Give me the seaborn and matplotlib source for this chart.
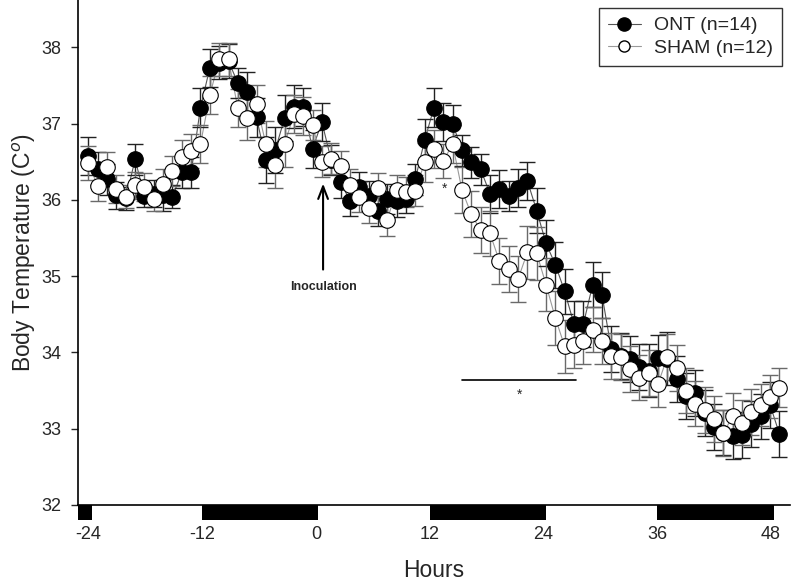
import numpy as np
import pandas as pd
import matplotlib
matplotlib.use("Agg")
import matplotlib.pyplot as plt
from matplotlib.lines import Line2D
from matplotlib.patches import Rectangle
import seaborn as sns

# ---------------- data ----------------
n_points = 75
hour_start = -24.0
hour_step = 0.985
hours = hour_start + hour_step * np.arange(n_points)

ont = [36.57, 36.41, 36.27, 36.06, 36.02, 36.53, 36.05, 36.08, 36.06, 36.04,
       36.36, 36.36, 37.21, 37.73, 37.80, 37.82, 37.53, 37.42, 37.08, 36.52,
       36.65, 37.07, 37.22, 37.22, 36.67, 37.02, 36.52, 36.23, 35.99, 36.17,
       36.05, 35.86, 36.01, 35.98, 36.01, 36.27, 36.78, 37.21, 37.02, 37.00,
       36.65, 36.49, 36.40, 36.08, 36.14, 36.05, 36.16, 36.25, 35.86, 35.43,
       35.15, 34.80, 34.37, 34.37, 34.89, 34.75, 34.04, 33.95, 33.91, 33.81,
       33.76, 33.93, 33.92, 33.65, 33.43, 33.47, 33.21, 33.02, 32.95, 32.90,
       32.92, 33.06, 33.16, 33.31, 32.93]
ont_err = [0.25, 0.22, 0.20, 0.18, 0.15, 0.20, 0.15, 0.18, 0.20, 0.15,
           0.20, 0.20, 0.25, 0.25, 0.22, 0.22, 0.20, 0.25, 0.25, 0.30,
           0.30, 0.30, 0.28, 0.25, 0.25, 0.25, 0.20, 0.20, 0.20, 0.20,
           0.20, 0.20, 0.20, 0.20, 0.18, 0.20, 0.28, 0.25, 0.25, 0.25,
           0.20, 0.20, 0.20, 0.25, 0.25, 0.20, 0.25, 0.25, 0.30, 0.30,
           0.30, 0.30, 0.30, 0.30, 0.30, 0.30, 0.30, 0.30, 0.30, 0.30,
           0.35, 0.30, 0.35, 0.30, 0.30, 0.30, 0.30, 0.30, 0.30, 0.30,
           0.30, 0.30, 0.30, 0.30, 0.30]

sham = [36.48, 36.18, 36.43, 36.14, 36.04, 36.19, 36.17, 36.01, 36.21, 36.38,
        36.56, 36.64, 36.73, 37.37, 37.84, 37.84, 37.20, 37.07, 37.26, 36.73,
        36.46, 36.73, 37.12, 37.10, 36.98, 36.50, 36.54, 36.44, 36.20, 36.04,
        35.89, 36.15, 35.74, 36.13, 36.10, 36.12, 36.49, 36.67, 36.51, 36.73,
        36.13, 35.81, 35.60, 35.56, 35.20, 35.09, 34.96, 35.31, 35.30, 34.89,
        34.45, 34.08, 34.10, 34.15, 34.30, 34.15, 33.95, 33.94, 33.78, 33.67,
        33.73, 33.59, 33.94, 33.80, 33.50, 33.33, 33.25, 33.13, 32.94, 33.17,
        33.08, 33.22, 33.31, 33.42, 33.54]
sham_err = [0.22, 0.20, 0.20, 0.18, 0.15, 0.18, 0.18, 0.15, 0.20, 0.20,
            0.22, 0.22, 0.25, 0.25, 0.22, 0.22, 0.25, 0.28, 0.25, 0.30,
            0.30, 0.30, 0.25, 0.25, 0.20, 0.20, 0.20, 0.20, 0.20, 0.20,
            0.20, 0.20, 0.22, 0.20, 0.20, 0.20, 0.25, 0.25, 0.22, 0.25,
            0.30, 0.30, 0.30, 0.30, 0.30, 0.30, 0.30, 0.35, 0.35, 0.35,
            0.35, 0.35, 0.30, 0.30, 0.30, 0.30, 0.30, 0.30, 0.30, 0.30,
            0.30, 0.30, 0.30, 0.30, 0.30, 0.30, 0.30, 0.30, 0.30, 0.30,
            0.30, 0.30, 0.28, 0.28, 0.26]

groups = ["ONT (n=14)", "SHAM (n=12)"]
x_ticks = [-24, -12, 0, 12, 24, 36, 48]
y_ticks = [32, 33, 34, 35, 36, 37, 38]
dark_periods = [(-25.1, -23.6), (-12, 0.2), (12, 24.3), (36, 48.3)]

df = pd.DataFrame({
    "hour": np.concatenate([hours, hours]),
    "temp": np.concatenate([ont, sham]),
    "err": np.concatenate([ont_err, sham_err]),
    "group": [groups[0]] * n_points + [groups[1]] * n_points,
})

# ---------------- figure ----------------
sns.set_style("ticks")
plt.rcParams["font.family"] = ["Liberation Sans", "DejaVu Sans"]

fig = plt.figure(figsize=(8, 5.85), dpi=100)
ax = fig.add_axes([0.0975, 0.1368, 0.89, 0.8632])

line_colors = {groups[0]: "#555555", groups[1]: "#9a9a9a"}
bar_colors = {groups[0]: "#222222", groups[1]: "#6a6a6a"}
face_colors = {groups[0]: "black", groups[1]: "white"}

sns.lineplot(data=df, x="hour", y="temp", hue="group", palette=line_colors,
             estimator=None, lw=0.8, legend=False, ax=ax, zorder=2)

for g in groups:
    sub = df[df["group"] == g]
    ax.errorbar(sub["hour"], sub["temp"], yerr=sub["err"], fmt="none",
                ecolor=bar_colors[g], elinewidth=1.0, capsize=5.5,
                capthick=1.0, zorder=3)
    sns.scatterplot(data=sub, x="hour", y="temp", color=face_colors[g],
                    edgecolor="black", linewidth=0.8, s=125, ax=ax,
                    legend=False, zorder=4)

ax.set_xlim(-25.1, 50.0)
ax.set_ylim(32, 38.62)
ax.set_xticks(x_ticks)
ax.set_xticklabels([str(t) for t in x_ticks])
ax.set_yticks(y_ticks)
ax.tick_params(axis="x", length=0, pad=15, labelsize=13)
ax.tick_params(axis="y", length=5, width=1, pad=7, labelsize=13)
for s in ["top", "right"]:
    ax.spines[s].set_visible(False)
for s in ["left", "bottom"]:
    ax.spines[s].set_linewidth(1.2)
    ax.spines[s].set_color("black")

ax.set_xlabel("Hours", fontsize=16.5, labelpad=12)
ax.set_ylabel("Body Temperature (C$^{o}$)", fontsize=16.5, labelpad=2)

# dark-period bars under the axis
for (a, b) in dark_periods:
    ax.add_patch(Rectangle((a, 32), b - a, -0.2, facecolor="black",
                           edgecolor="none", clip_on=False, zorder=5))

# annotations
ax.annotate("", xy=(0.75, 36.25), xytext=(0.75, 35.05),
            arrowprops=dict(arrowstyle="->,head_width=0.35,head_length=0.9",
                            lw=1.5, color="black"))
ax.text(0.75, 34.86, "Inoculation", ha="center", va="center",
        fontsize=9, fontweight="bold")
ax.text(13.6, 36.15, "*", ha="center", va="center", fontsize=10)
ax.plot([15.4, 27.4], [33.64, 33.64], color="black", lw=1.2)
ax.text(21.5, 33.45, "*", ha="center", va="center", fontsize=10)

handles = [
    Line2D([0], [0], color="#555555", lw=0.8, marker="o", markersize=9.5,
           markerfacecolor="black", markeredgecolor="black"),
    Line2D([0], [0], color="#9a9a9a", lw=0.8, marker="o", markersize=8,
           markerfacecolor="white", markeredgecolor="black"),
]
leg = ax.legend(handles, groups, loc="upper right",
                bbox_to_anchor=(0.989, 0.984), borderaxespad=0,
                fontsize=14, frameon=True, fancybox=False,
                edgecolor="black", handlelength=1.7, handletextpad=0.7,
                borderpad=0.45, labelspacing=0.25)
leg.get_frame().set_linewidth(1.0)

fig.savefig("out.png", dpi=100)
